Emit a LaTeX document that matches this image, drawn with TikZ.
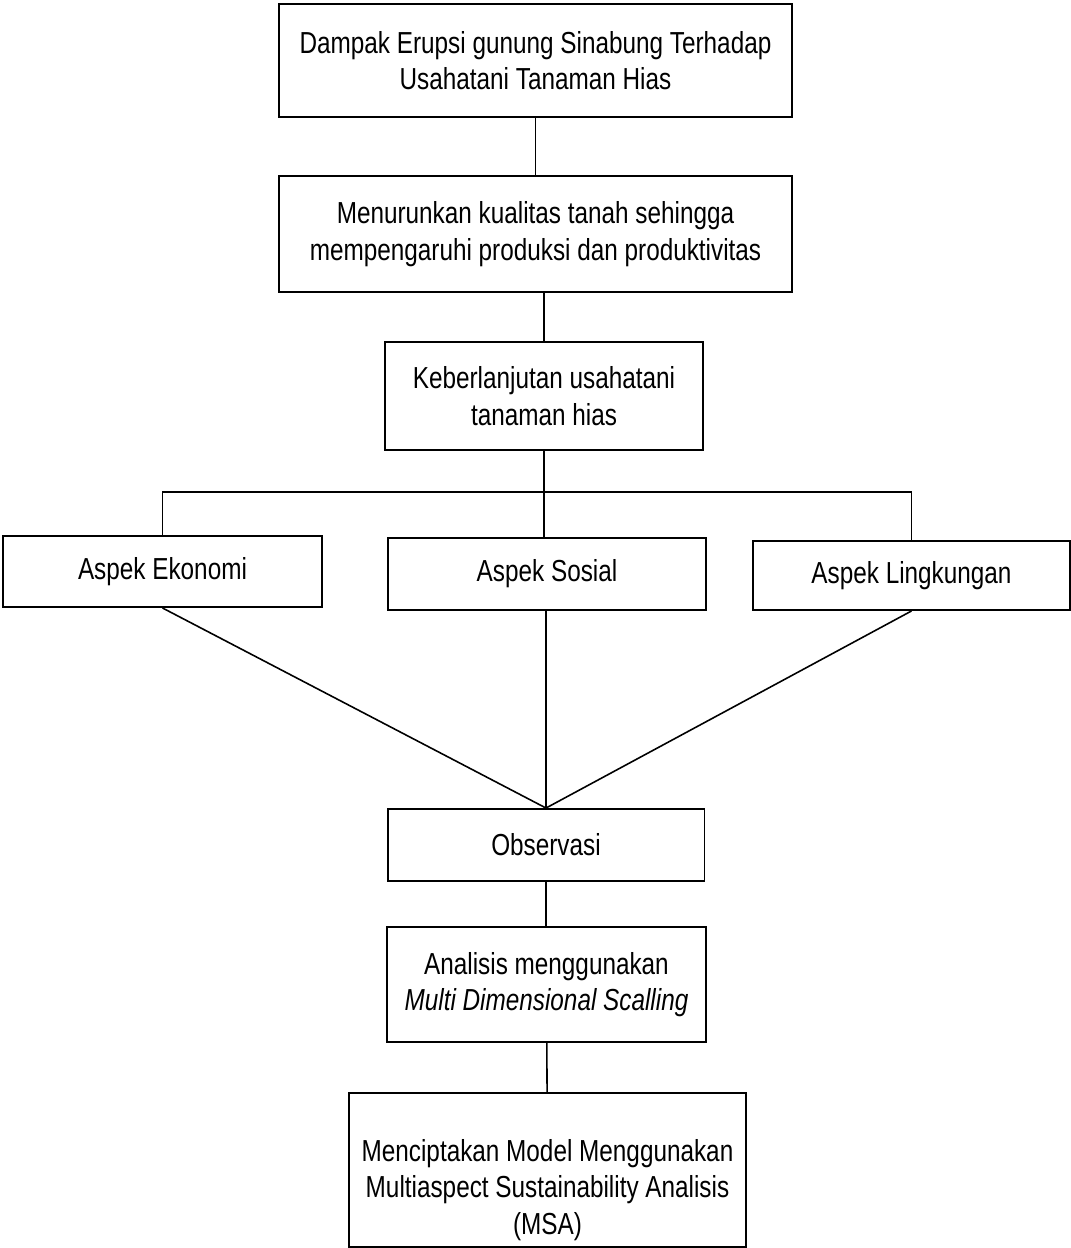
\documentclass[tikz,border=0pt]{standalone}
\usepackage{fontspec}
\setmainfont{Liberation Sans}[FakeStretch=0.8]

\begin{document}
\begin{tikzpicture}[
    x=0.02cm, y=-0.02cm,
    font=\fontsize{17.3}{20.8}\selectfont,
    kotak/.style={draw, line width=1.1pt, align=center, inner sep=0pt,
                  minimum width=6.36cm, minimum height=1.44cm},
    garis/.style={line width=0.9pt}
  ]
    \useasboundingbox (0,0) rectangle (1071,1248);

    \node[kotak, minimum width=10.26cm, minimum height=2.26cm] (dampak)  at (535.5,60.5)
        {Dampak Erupsi gunung Sinabung Terhadap\\Usahatani Tanaman Hias};
    \node[kotak, minimum width=10.26cm, minimum height=2.32cm] (kualitas) at (535.5,234)
        {Menurunkan kualitas tanah sehingga\\mempengaruhi produksi dan produktivitas};
    \node[kotak, minimum height=2.16cm] (keberlanjutan) at (544,396)
        {Keberlanjutan usahatani\\tanaman hias};

    \node[kotak, minimum width=6.38cm, minimum height=1.42cm] (ekonomi)    at (162.5,571.5) {Aspek Ekonomi};
    \node[kotak]                                             (sosial)     at (547,574)     {Aspek Sosial};
    \node[kotak, minimum width=6.34cm, minimum height=1.38cm] (lingkungan) at (911.5,575.5) {Aspek Lingkungan};

    \node[kotak, minimum width=6.34cm]                       (observasi)  at (546,845)     {Observasi};
    \node[kotak, minimum width=6.38cm, minimum height=2.3cm] (analisis)   at (546.5,984.5)
        {Analisis menggunakan\\\textit{Multi Dimensional Scalling}};
    \node[kotak, minimum width=7.94cm, minimum height=3.08cm] (msa)       at (547.5,1170)
        {\rule{0pt}{1.24cm}Menciptakan Model Menggunakan\\Multiaspect Sustainability Analisis\\(MSA)};

    \coordinate (cabang) at (545,492);

    \draw[garis] (dampak) -- (kualitas);
    \draw[garis] (keberlanjutan.north |- kualitas.south) -- (keberlanjutan.north);
    \draw[garis] (keberlanjutan.south) -- (keberlanjutan.south |- sosial.north);
    \draw[garis] (ekonomi.north) |- (cabang) -| (lingkungan.north);
    \foreach \aspek in {ekonomi, lingkungan}
        \draw[garis] (\aspek.south) -- (observasi.north);
    \draw[garis] (observasi.north |- sosial.south) -- (observasi.north);
    \draw[garis] (observasi.south) -- (observasi.south |- analisis.north);
    \draw[garis] (analisis) -- (msa);
\end{tikzpicture}
\end{document}
